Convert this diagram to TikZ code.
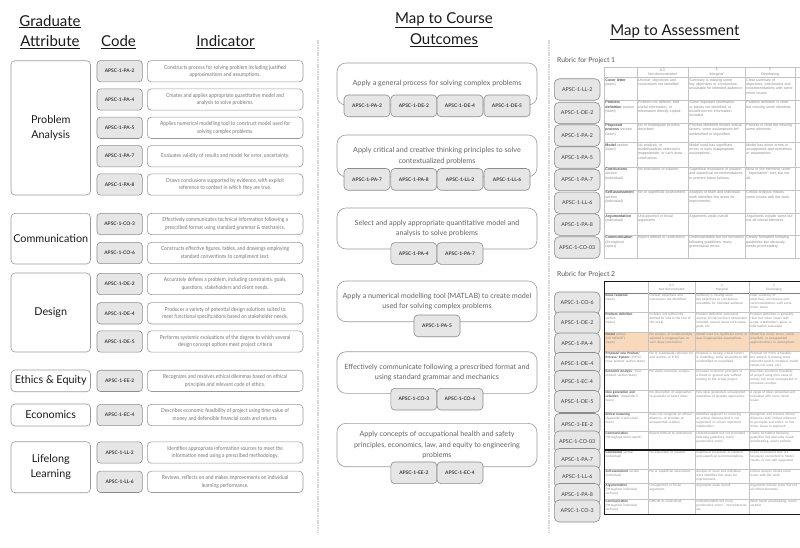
\documentclass[tikz,border=0pt]{standalone}
\usepackage{fontspec}
\setmainfont{Lato}
\newfontfamily\condfont[FakeStretch=0.87]{Lato}
\newfontfamily\tafont{Liberation Sans}
\newfontfamily\tbfont{Carlito}
\definecolor{hd}{HTML}{1A1A1A}
\definecolor{bd}{HTML}{9A9A9A}
\definecolor{cf}{HTML}{E6E6E6}
\definecolor{cb}{HTML}{8C8C8C}
\definecolor{ct}{HTML}{3C3C3C}
\definecolor{itx}{HTML}{777777}
\definecolor{otx}{HTML}{646464}
\definecolor{tl}{HTML}{C4C4C4}
\definecolor{ttx}{HTML}{8A8A8A}
\definecolor{tcr}{HTML}{555555}
\definecolor{dv}{HTML}{D8D8D8}
\definecolor{hl}{HTML}{F8D9BC}
\newcounter{tc}
\tikzset{
  head/.style={anchor=base, inner sep=0pt, text=hd, font=\fontsize{15}{18}\selectfont},
  divider/.style={draw=dv, line width=1.6pt, dash pattern=on 1.6pt off 0.8pt},
  attr/.style={draw=bd, rounded corners=4pt, line width=0.6pt, minimum width=79.5pt, inner sep=0pt, align=center, text=hd, font=\fontsize{10.8}{14.5}\selectfont},
  codeL/.style={draw=cb, fill=cf, rounded corners=3.5pt, line width=0.6pt, minimum width=45.3pt, minimum height=21.3pt, inner sep=0pt, text=ct, font=\fontsize{4.9}{5}\selectfont\bfseries},
  ind/.style={draw=bd, rounded corners=4pt, line width=0.6pt, minimum width=155.7pt, minimum height=21.3pt, inner sep=0pt, align=center, text=itx, font=\condfont\fontsize{5.6}{7.3}\selectfont},
  outc/.style={draw=bd, rounded corners=9pt, line width=0.6pt, minimum width=200pt, inner sep=0pt, align=center, text=otx, font=\fontsize{7.2}{10.5}\selectfont},
  codeM/.style={codeL, minimum width=46pt, minimum height=21.7pt, rounded corners=4pt},
  codeR/.style={draw=cb, fill=cf, rounded corners=5pt, line width=0.6pt, minimum width=45.7pt, minimum height=21.5pt, inner sep=0pt, text=ct, font=\fontsize{5.3}{6}\selectfont},
  rubt/.style={anchor=west, inner sep=0pt, text=tcr, font=\fontsize{6.8}{8}\selectfont},
  tline/.style={draw=tl, line width=0.4pt},
  ta/.style={anchor=north west, inner sep=0pt, align=left, text=ttx, font=\tafont\fontsize{3.6}{4.4}\selectfont},
  tb/.style={anchor=north west, inner sep=0pt, align=left, text=ttx, font=\tbfont\fontsize{3.4}{4.1}\selectfont},
  tah/.style={anchor=center, inner sep=0pt, align=center, text=ttx, font=\tafont\fontsize{3.6}{4.4}\selectfont},
  tbh/.style={anchor=center, inner sep=0pt, align=center, text=ttx, font=\tbfont\fontsize{3.4}{4.1}\selectfont},
}
\newcommand\crit[1]{{\bfseries\color{tcr}#1}}
\newcommand\TA[5]{%
  \stepcounter{tc}\node[ta,text width=30pt] (ta\the\value{tc}a) at (605.2,#1) {#2};
  \node[ta,text width=49pt] (ta\the\value{tc}b) at (637.9,#1) {#3};
  \node[ta,text width=54.5pt] (ta\the\value{tc}c) at (689.2,#1) {#4};
  \node[ta,text width=47.5pt] (ta\the\value{tc}d) at (746.2,#1) {#5};}
\newcommand\TB[5]{%
  \stepcounter{tc}\node[tb,text width=41.5pt] (tb\the\value{tc}a) at (605.5,#1) {#2};
  \node[tb,text width=44pt] (tb\the\value{tc}b) at (649.5,#1) {#3};
  \node[tb,text width=51.5pt] (tb\the\value{tc}c) at (696.2,#1) {#4};
  \node[tb,text width=48pt] (tb\the\value{tc}d) at (750.2,#1) {#5};}
\begin{document}
\hyphenpenalty=10000
\exhyphenpenalty=10000
\begin{tikzpicture}[x=1pt,y=-1pt]
\useasboundingbox (0,0) rectangle (800,547);
\fill[white] (0,0) rectangle (800,547);
% dividers
\draw[divider] (318,40) -- (318,533);
\draw[divider] (549,40) -- (549,533);
% headings
\node[head] (hG) at (50,26) {\underline{Graduate}};
\node[head] (hA) at (50,46.5) {\underline{Attribute}};
\node[head] (hC) at (118.5,46.5) {\underline{Code}};
\node[head] (hI) at (225.5,46.5) {\underline{Indicator}};
\node[head] (hM1) at (444,23) {\underline{Map to Course}};
\node[head] (hM2) at (444,44.5) {\underline{Outcomes}};
\node[head] (hM3) at (675,35) {\underline{Map to Assessment}};
% ---------- left column ----------
\node[attr, minimum height=134.3pt] (aPA) at (50.75,127.85) {Problem\\Analysis};
\node[attr, minimum height=50.7pt] (aCO) at (50.75,238.65) {Communication};
\node[attr, minimum height=79pt] (aDE) at (50.75,312.5) {Design};
\node[attr, minimum height=21.7pt] (aEE) at (50.75,380.85) {Ethics \& Equity};
\node[attr, minimum height=22pt] (aEC) at (50.75,415) {Economics};
\node[attr, minimum height=51pt] (aLL) at (50.75,467.2) {Lifelong\\Learning};

\node[codeL] (cPA2) at (119.65,71.2) {APSC-1-PA-2};
\node[codeL] (cPA4) at (119.65,99.5) {APSC-1-PA-4};
\node[codeL] (cPA5) at (119.65,127.8) {APSC-1-PA-5};
\node[codeL] (cPA7) at (119.65,156.2) {APSC-1-PA-7};
\node[codeL] (cPA8) at (119.65,184.5) {APSC-1-PA-8};
\node[codeL] (cCO3) at (119.65,224) {APSC-1-CO-3};
\node[codeL] (cCO6) at (119.65,253) {APSC-1-CO-6};
\node[codeL] (cDE2) at (119.65,284) {APSC-1-DE-2};
\node[codeL] (cDE4) at (119.65,313.3) {APSC-1-DE-4};
\node[codeL] (cDE5) at (119.65,341.5) {APSC-1-DE-5};
\node[codeL] (cEE2) at (119.65,380.85) {APSC-1-EE-2};
\node[codeL] (cEC4) at (119.65,415) {APSC-1-EC-4};
\node[codeL] (cLL2) at (119.65,452.5) {APSC-1-LL-2};
\node[codeL] (cLL6) at (119.65,481.8) {APSC-1-LL-6};

\node[ind] (iPA2) at (225.15,71.2) {Constructs process for solving problem including justified\\approximations and assumptions.};
\node[ind] (iPA4) at (225.15,99.5) {Creates and applies appropriate quantitative model and\\analysis to solve problems.};
\node[ind] (iPA5) at (225.15,127.8) {Applies numerical modelling tool to construct model used for\\solving complex problems.};
\node[ind] (iPA7) at (225.15,156.2) {Evaluates validity of results and model for error, uncertainty.};
\node[ind] (iPA8) at (225.15,184.5) {Draws conclusions supported by evidence, with explicit\\reference to context in which they are true.};
\node[ind] (iCO3) at (225.15,224) {Effectively communicates technical information following a\\prescribed format using standard grammar \& mechanics.};
\node[ind] (iCO6) at (225.15,253) {Constructs effective figures, tables, and drawings employing\\standard conventions to compliment text.};
\node[ind] (iDE2) at (225.15,284) {Accurately defines a problem, including constraints, goals,\\questions, stakeholders and client needs.};
\node[ind] (iDE4) at (225.15,313.3) {Produces a variety of potential design solutions suited to\\meet functional specifications based on stakeholder needs.};
\node[ind] (iDE5) at (225.15,341.5) {Performs systemic evaluations of the degree to which several\\design concept options meet project criteria};
\node[ind] (iEE2) at (225.15,380.85) {Recognizes and resolves ethical dilemmas based on ethical\\principles and relevant code of ethics.};
\node[ind] (iEC4) at (225.15,415) {Describes economic feasibility of project using time value of\\money and defensible financial costs and returns.};
\node[ind] (iLL2) at (225.15,452.5) {Identifies appropriate information sources to meet the\\information need using a prescribed methodology.};
\node[ind] (iLL6) at (225.15,481.8) {Reviews, reflects on and makes improvements on individual\\learning performance.};
% ---------- middle column ----------
\node[outc, minimum height=42pt] (o1) at (437,84) {Apply a general process for solving complex problems};
\node[outc, minimum height=41.7pt] (o2) at (437,155.85) {Apply critical and creative thinking principles to solve\\contextualized problems};
\node[outc, minimum height=41pt] (o3) at (437,228.5) {Select and apply appropriate quantitative model and\\analysis to solve problems};
\node[outc, minimum height=40.7pt] (o4) at (437,301.35) {Apply a numerical modelling tool (MATLAB) to create model\\used for solving complex problems};
\node[outc, minimum height=41.6pt] (o5) at (437,372.5) {Effectively communicate following a prescribed format and\\using standard grammar and mechanics};
\node[outc, minimum height=43.4pt] (o6) at (437,445) {Apply concepts of occupational health and safety\\principles, economics, law, and equity to engineering\\problems};

\node[codeM] (m1a) at (367,105.85) {APSC-1-PA-2};
\node[codeM] (m1b) at (413.85,105.85) {APSC-1-DE-2};
\node[codeM] (m1c) at (460,105.85) {APSC-1-DE-4};
\node[codeM] (m1d) at (507,105.85) {APSC-1-DE-5};
\node[codeM] (m2a) at (367,179.35) {APSC-1-PA-7};
\node[codeM] (m2b) at (413.85,179.35) {APSC-1-PA-8};
\node[codeM] (m2c) at (460,179.35) {APSC-1-LL-2};
\node[codeM] (m2d) at (507,179.35) {APSC-1-LL-6};
\node[codeM] (m3a) at (413.85,253.5) {APSC-1-PA-4};
\node[codeM] (m3b) at (460,253.5) {APSC-1-PA-7};
\node[codeM] (m4a) at (437,325.85) {APSC-1-PA-5};
\node[codeM] (m5a) at (413.85,399.15) {APSC-1-CO-3};
\node[codeM] (m5b) at (460,399.15) {APSC-1-CO-6};
\node[codeM] (m6a) at (413.85,472.8) {APSC-1-EE-2};
\node[codeM] (m6b) at (460,472.8) {APSC-1-EC-4};
% ---------- right column ----------
\node[rubt] (r1) at (557,61) {Rubric for Project 1};
\node[rubt] (r2) at (557,275) {Rubric for Project 2};

\begin{scope}
\clip (550,0) rectangle (800,547);
% table 1 grid
\foreach \y in {66.7,77.3,100,122.7,142.3,166.7,190,213.3,235,258.3} \draw[tline] (604,\y) -- (850,\y);
\foreach \x in {604,636.7,688,745,795} \draw[tline] (\x,66.7) -- (\x,258.3);
\node[tah] (h1a) at (662.35,72) {0-3\\\textit{Not demonstrated}};
\node[tah] (h1b) at (716.5,72) {4\\\textit{Marginal}};
\node[tah] (h1c) at (770,72) {5\\\textit{Developing}};
\TA{78.2}{\crit{Cover letter} (team)}{Unclear; objectives and conclusions not identified}{Summary is missing some key objectives or conclusions; unsuitable for intended audience}{Clear summary of objectives, conclusions and recommendations with some minor issues}
\TA{100.9}{\crit{Problem definition} section (team)}{Problem not defined, little useful information, or information directly copied.}{Some important information or biases not identified, or trivial/incorrect information included.}{Problem definition is clear but missing some elements}
\TA{123.6}{\crit{Proposed process} section (team)}{No or inadequate process described}{Process identified misses critical factors; some assumptions left unidentified or unjustified.}{Process is clear but missing some elements}
\TA{143.2}{\crit{Model} section (team)}{No analysis, or model/analysis selected is inappropriate, or can't draw conclusions.}{Model used has significant errors or uses inappropriate assumptions.}{Model has minor errors or unsupported approximations or assumptions}
\TA{167.6}{\crit{Conclusions} section (individual)}{No evaluation of solution.}{Superficial evaluation of solution and superficial recommendations to prevent future failures.}{Most of the elements under ``expectation'' met, but not all}
\TA{190.9}{\crit{Self-assessment} section (individual)}{No or superficial assessment.}{Analysis of team and individual work identifies few areas for improvement.}{Critical analysis misses some issues with the work.}
\TA{214.2}{\crit{Argumentation} (individual)}{Unsupported or trivial arguments}{Arguments weak overall}{Arguments include some but not all critical elements}
\TA{235.9}{\crit{Communication} (throughout report)}{Report difficult to understand}{Understandable but not formatted following guidelines; many grammatical errors}{Clearly formatted following guidelines but obviously needs proofreading}
% table 2
\fill[hl] (604.3,331.7) rectangle (850,351);
\foreach \y in {311.7,331.7,351,369.3,390,412.3,431,469,483.3,499} \draw[tline] (604.3,\y) -- (850,\y);
\draw[draw=gray, line width=0.6pt] (604.3,293.3) -- (850,293.3);
\foreach \x in {648.3,695,749} \draw[tline] (\x,281.7) -- (\x,514.3);
\draw[line width=1.3pt, draw=hd] (850,281.7) -- (604.3,281.7) -- (604.3,514.3) -- (850,514.3);
\draw[line width=1.3pt, draw=hd] (604.3,450) -- (850,450);
\node[tbh] (h2a) at (671.65,287.5) {0-3\\Not demonstrated};
\node[tbh] (h2b) at (722,287.5) {4\\Marginal};
\node[tbh] (h2c) at (774,287.5) {5\\Developing};
\TB{294.1}{\crit{Email response:}\\(team)}{Unclear; objectives and conclusions not identified}{Summary is missing some key objectives or conclusions; unsuitable for intended audience}{Clear summary of objectives, conclusions and recommendations with some minor issues}
\TB{312.5}{\crit{Problem definition}\\section\\(team)}{Problem not sufficiently defined to inform the rest of the work)}{Problem definition somewhat unclear, trivial/incorrect information included, several issues with scope, goals, etc.}{Problem definition is generally clear but minor issues with scope, stakeholders, goals, or information evaluation}
\TB{332.5}{\crit{Model} section\\(NO WEIGHT)\\(team)}{No analysis, or model/analysis selected is inappropriate, or can't draw conclusions}{Model used has significant errors or uses inappropriate assumptions.}{Model has minor errors, overly simplistic, or unsupported approximations or assumptions}
\TB{351.8}{\crit{Proposed new Product/ Process/ System:} (P/P/S) (new product section team)}{No or inadequate rationale for and analysis of P/P/S}{Proposal is missing critical factors in modelling; some assumptions left unidentified or unjustified}{Proposal for P/P/S is feasible, but analysis is missing some elements (poorly modeled, model results not used, etc.)}
\TB{370.1}{\crit{Economic Analysis}: (new product section team)}{No useful economic analysis}{Discusses economic principles in a broad or general way without relating to the actual project}{Describes economic feasibility of project using time value of money but some unsupported or erroneous analysis}
\TB{390.8}{\crit{Idea generation and selection}: (Appendix II team)}{No description of approaches to generate or select ideas}{Few ideas generated, unsupported evaluation of possible approaches}{A range of ideas presented and evaluated with some minor issues}
\TB{413.1}{\crit{Ethical reasoning}\\(Appendix II and email - team)}{Does not recognize an ethical dilemma, or provides an unsupported solution.}{Identifies approach to resolving an ethical dilemma that is not supported, or misses important stakeholders}{Recognizes and resolves ethical dilemmas with limited reference to principles and codes, or has minor issues in approach}
\TB{431.8}{\crit{Communication}\\(throughout team report)}{Report difficult to understand}{Understandable but not formatted following guidelines, many grammatical errors}{Clearly formatted following guidelines but obviously needs proofreading, overly verbose}
\TB{451.2}{\crit{Conclusions} section\\(individual)}{No evaluation of solution.}{Superficial evaluation of solution and superficial recommendations}{Draws conclusions that are tenuously connected to model results, or not well supported.}
\TB{469.8}{\crit{Self-assessment} section\\(individual)}{No or superficial assessment.}{Analysis of team and individual work identifies few areas for improvement.}{Critical analysis misses some issues with the work.}
\TB{484.1}{\crit{Argumentation}\\(throughout individual sections)}{Unsupported or trivial arguments}{Arguments weak overall}{Arguments include some but not all critical elements.}
\TB{499.8}{\crit{Communication}\\(throughout individual sections)}{Difficult to understand}{Understandable but many grammatical errors , inconsistencies, etc.}{Work needs proofreading, overly verbose}
\end{scope}

% right code boxes, project 1
\node[codeR] (p1a) at (577.15,89.5) {APSC-1-LL-2};
\node[codeR] (p1b) at (577.15,113) {APSC-1-DE-2};
\node[codeR] (p1c) at (577.15,135.5) {APSC-1-PA-2};
\node[codeR] (p1d) at (577.15,157.5) {APSC-1-PA-5};
\node[codeR] (p1e) at (577.15,180) {APSC-1-PA-7};
\node[codeR] (p1f) at (577.15,202.8) {APSC-1-LL-6};
\node[codeR] (p1g) at (577.15,224.65) {APSC-1-PA-8};
\node[codeR] (p1h) at (577.15,247.5) {APSC-1-CO-03};
% project 2
\node[codeR, minimum height=22pt] (p2a) at (577.15,303) {APSC-1-CO-6};
\node[codeR, minimum height=22pt] (p2b) at (577.15,323) {APSC-1-DE-2};
\node[codeR, minimum height=22pt] (p2c) at (577.15,344) {APSC-1-PA-4};
\node[codeR, minimum height=22pt] (p2d) at (577.15,363.5) {APSC-1-DE-4};
\node[codeR, minimum height=22pt] (p2e) at (577.15,381.5) {APSC-1-EC-4};
\node[codeR, minimum height=22pt] (p2f) at (577.15,401.5) {APSC-1-DE-5};
\node[codeR, minimum height=22pt] (p2g) at (577.15,424.5) {APSC-1-EE-2};
\node[codeR, minimum height=22pt] (p2h) at (577.15,442) {APSC-1-CO-03};
\node[codeR, minimum height=22pt] (p2i) at (577.15,459.5) {APSC-1-PA-7};
\node[codeR, minimum height=22pt] (p2j) at (577.15,477) {APSC-1-LL-6};
\node[codeR, minimum height=22pt] (p2k) at (577.15,494.5) {APSC-1-PA-8};
\node[codeR, minimum height=22pt] (p2l) at (577.15,511) {APSC-1-CO-3};
\end{tikzpicture}
\end{document}
